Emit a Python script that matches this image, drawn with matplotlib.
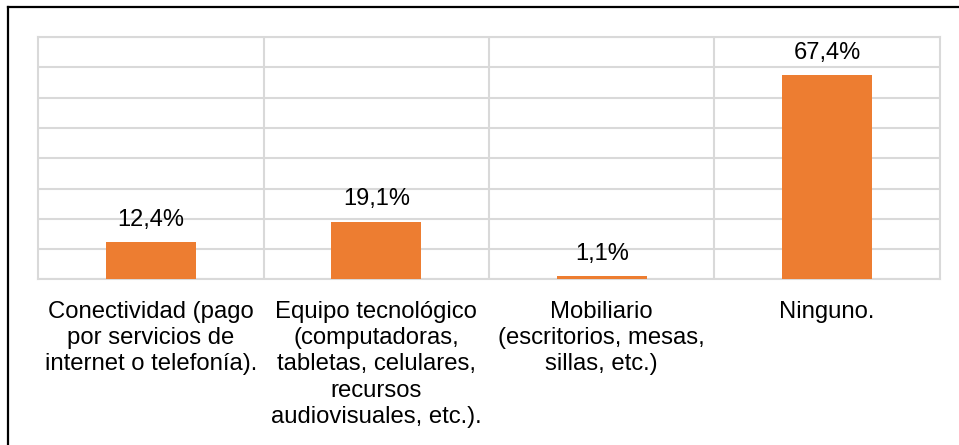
import matplotlib.pyplot as plt
from matplotlib.lines import Line2D

plt.rcParams['font.family'] = ['Liberation Sans', 'DejaVu Sans']

categories = [
    "Conectividad (pago\npor servicios de\ninternet o telefonía).",
    "Equipo tecnológico\n(computadoras,\ntabletas, celulares,\nrecursos\naudiovisuales, etc.).",
    "Mobiliario\n(escritorios, mesas,\nsillas, etc.)",
    "Ninguno.",
]
values = [12.4, 19.1, 1.1, 67.4]
labels = ["12,4%", "19,1%", "1,1%", "67,4%"]

bar_color = "#ED7D31"
grid_color = "#D9D9D9"

fig = plt.figure(figsize=(9.59, 4.45), dpi=100)
ax = fig.add_axes([0.040, 0.372, 0.940, 0.545])

x = range(len(categories))
bars = ax.bar(x, values, width=0.4, color=bar_color, zorder=3)

ax.set_xlim(-0.5, len(categories) - 0.5)
ax.set_ylim(0, 80)
ax.set_yticks(range(0, 81, 10))
ax.yaxis.grid(True, color=grid_color, linewidth=1.5, zorder=0)
for b in [i + 0.5 for i in range(len(categories) - 1)]:
    ax.axvline(b, color=grid_color, linewidth=1.5, zorder=0)
for s in ax.spines.values():
    s.set_color(grid_color)
    s.set_linewidth(1.5)

ax.tick_params(axis='y', left=False, labelleft=False)
ax.tick_params(axis='x', bottom=False, pad=12)
ax.set_xticks(list(x))
ax.set_xticklabels(categories, fontsize=17.2, linespacing=1.25,
                   multialignment='center', va='top')

for rect, lab in zip(bars, labels):
    ax.annotate(lab, (rect.get_x() + rect.get_width() / 2, rect.get_height()),
                xytext=(0, 8), textcoords='offset points',
                ha='center', va='bottom', fontsize=17)

# outer frame (top and left edges only visible)
fig.add_artist(Line2D([8 / 959, 1.0], [1 - 7 / 445, 1 - 7 / 445],
                      transform=fig.transFigure, color='black', linewidth=1.6))
fig.add_artist(Line2D([8 / 959, 8 / 959], [0.0, 1 - 7 / 445],
                      transform=fig.transFigure, color='black', linewidth=1.6))

fig.savefig("out.png", dpi=100, facecolor='white')
